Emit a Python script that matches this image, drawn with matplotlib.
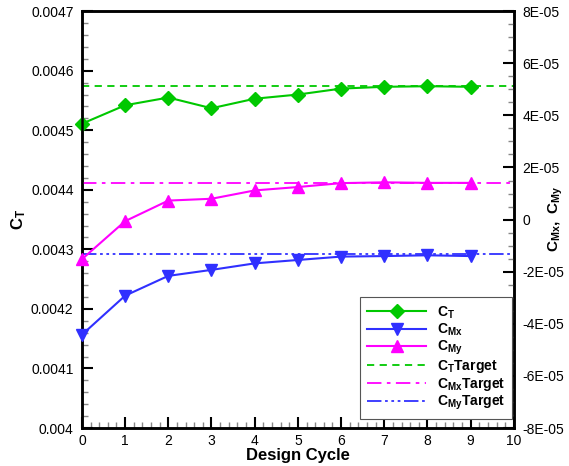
import numpy as np
import matplotlib
matplotlib.use('Agg')
from matplotlib import pyplot as plt
from matplotlib.ticker import MultipleLocator, AutoMinorLocator, FuncFormatter

plt.rcParams['font.family'] = 'Liberation Sans'
plt.rcParams['mathtext.fontset'] = 'custom'
plt.rcParams['mathtext.rm'] = 'Liberation Sans'
plt.rcParams['mathtext.bf'] = 'Liberation Sans:bold'

# data
cycle = [0, 1, 2, 3, 4, 5, 6, 7, 8, 9]
ct = [0.004511, 0.004542, 0.004555, 0.004537, 0.004553,
      0.004560, 0.004570, 0.004573, 0.004574, 0.004573]
cmx = [-44.2e-6, -29.2e-6, -21.6e-6, -19.3e-6, -16.8e-6,
       -15.5e-6, -14.2e-6, -14.0e-6, -13.7e-6, -14.0e-6]
cmy = [-15.2e-6, -0.6e-6, 7.3e-6, 8.0e-6, 11.2e-6,
       12.5e-6, 14.0e-6, 14.3e-6, 14.1e-6, 14.1e-6]
ct_target = 0.004575
cmx_target = -13.3e-6
cmy_target = 14.2e-6

green = '#00c800'
blue = '#3030ff'
magenta = '#ff00ff'

fig = plt.figure(figsize=(5.69, 4.66), dpi=100)
ax = fig.add_axes([0.144, 0.0815, 0.759, 0.8945])
ax2 = ax.twinx()

h1, = ax.plot(cycle, ct, color=green, lw=1.5, marker='D', ms=7,
              label=r'$\mathbf{C_T}$', clip_on=False, zorder=5)
h4 = ax.axhline(ct_target, color=green, lw=1.3, ls=(0, (4, 3)),
                label=r'$\mathbf{C_T}$Target')
h2, = ax2.plot(cycle, cmx, color=blue, lw=1.5, marker='v', ms=8,
               label=r'$\mathbf{C_{Mx}}$', clip_on=False, zorder=5)
h3, = ax2.plot(cycle, cmy, color=magenta, lw=1.5, marker='^', ms=8,
               label=r'$\mathbf{C_{My}}$', clip_on=False, zorder=5)
h5 = ax2.axhline(cmy_target, color=magenta, lw=1.3, ls=(0, (8, 3, 2, 3)),
                 label=r'$\mathbf{C_{Mx}}$Target')
h6 = ax2.axhline(cmx_target, color=blue, lw=1.3, ls=(0, (8, 2, 1.5, 2, 1.5, 2, 1.5, 2)),
                 label=r'$\mathbf{C_{My}}$Target')

ax.set_xlim(0, 10)
ax.set_ylim(0.004, 0.0047)
ax2.set_ylim(-8e-5, 8e-5)

ax.xaxis.set_major_locator(MultipleLocator(1))
ax.xaxis.set_minor_locator(AutoMinorLocator(5))
ax.yaxis.set_major_locator(MultipleLocator(0.0001))
ax.yaxis.set_minor_locator(AutoMinorLocator(5))
ax2.yaxis.set_major_locator(MultipleLocator(2e-5))
ax2.yaxis.set_minor_locator(AutoMinorLocator(4))

ax.yaxis.set_major_formatter(FuncFormatter(lambda v, p: '%g' % round(v, 6)))
ax2.yaxis.set_major_formatter(
    FuncFormatter(lambda v, p: '0' if abs(v) < 1e-12 else '%.0E' % v))

for a in (ax, ax2):
    a.tick_params(which='major', direction='in', length=8, width=1.5,
                  labelsize=10, color='black')
    a.tick_params(which='minor', direction='in', length=4, width=1,
                  color='#888888')
    for s in a.spines.values():
        s.set_linewidth(1.8)
ax.tick_params(axis='x', pad=4)
ax.tick_params(axis='y', pad=6, right=False)
ax2.tick_params(axis='y', pad=6)

ax.set_xlabel('Design Cycle', fontsize=12, fontweight='bold', labelpad=0)
ax.set_ylabel(r'$\mathbf{C_T}$', fontsize=12, labelpad=2)
# right label sits between the 2E-05 and -2E-05 tick labels
fig.text(556 / 569, 1 - 219 / 466, r'$\mathbf{C_{Mx},\ C_{My}}$', fontsize=11,
         rotation=90, ha='center', va='center')

leg = ax2.legend(handles=[h1, h2, h3, h4, h5, h6], loc='lower right',
                 bbox_to_anchor=(0.996, 0.022), borderaxespad=0, numpoints=1,
                 handlelength=4.2, fancybox=False, framealpha=1,
                 edgecolor='#555555', prop={'weight': 'bold', 'size': 10},
                 labelspacing=0.06, borderpad=0.5, handletextpad=0.8)
leg.get_frame().set_linewidth(0.8)

fig.savefig('out.png', dpi=100)
